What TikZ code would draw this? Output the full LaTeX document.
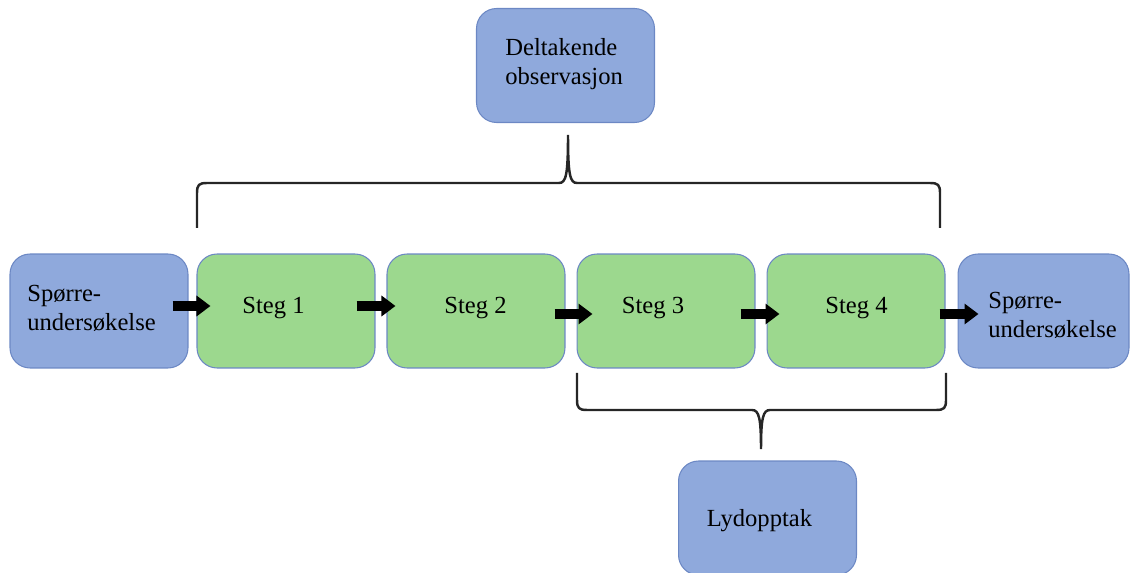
\documentclass[tikz,border=0pt]{standalone}
\usepackage{fontspec}
\setmainfont{Liberation Serif}
\usetikzlibrary{arrows.meta}
\definecolor{boxblue}{RGB}{143,169,220}
\definecolor{boxgreen}{RGB}{156,216,142}
\definecolor{boxline}{RGB}{108,136,196}

\tikzset{
   box/.style={draw=boxline, line width=0.6pt, rounded corners=0.4cm, minimum width=3.56cm, minimum height=2.28cm, inner sep=0pt},
   bluebox/.style={box, fill=boxblue},
   greenbox/.style={box, fill=boxgreen},
   lbl/.style={font=\fontsize{14}{16.5}\selectfont, inner sep=0pt, align=left},
   flow/.style={line width=0.2cm, -{Triangle[length=0.28cm, width=0.4cm]}},
   brace/.style={line width=1.4pt, draw=black!85}
}

\begin{document}
\begin{tikzpicture}[x=0.02cm, y=-0.02cm]
   \useasboundingbox (0,0) rectangle (1131,573);
   % boxes
   \node[bluebox] (svar1) at (99,311) {};
   \node[greenbox] (steg1) at (286,311) {};
   \node[greenbox] (steg2) at (476,311) {};
   \node[greenbox] (steg3) at (666,311) {};
   \node[greenbox] (steg4) at (856,311) {};
   \node[bluebox, minimum width=3.42cm] (svar2) at (1043.5,311) {};
   \node[bluebox] (obs) at (565.5,65.5) {};
   \node[bluebox] (lyd) at (767.5,518) {};
   % arrows
   \draw[flow] ([xshift=-0.32cm, yshift=0.1cm]svar1.east) -- ([xshift=0.28cm, yshift=0.1cm]steg1.west);
   \draw[flow] ([xshift=-0.38cm, yshift=0.1cm]steg1.east) -- ([xshift=0.18cm, yshift=0.1cm]steg2.west);
   \draw[flow] ([xshift=-0.22cm, yshift=-0.06cm]steg2.east) -- ([xshift=0.32cm, yshift=-0.06cm]steg3.west);
   \draw[flow] ([xshift=-0.3cm, yshift=-0.06cm]steg3.east) -- ([xshift=0.26cm, yshift=-0.06cm]steg4.west);
   \draw[flow] ([xshift=-0.12cm, yshift=-0.06cm]steg4.east) -- ([xshift=0.42cm, yshift=-0.06cm]svar2.west);
   % texts
   \node[lbl, anchor=west] (t0) at (27,308.5) {Spørre-\\undersøkelse};
   \node[lbl] (t1) at (273.5,308) {Steg 1};
   \node[lbl] (t2) at (475.5,308) {Steg 2};
   \node[lbl] (t3) at (653,308) {Steg 3};
   \node[lbl] (t4) at (856.5,308) {Steg 4};
   \node[lbl, anchor=west] (t5) at (988,315.5) {Spørre-\\undersøkelse};
   \node[lbl, anchor=west] (tobs) at (505,64) {Deltakende\\observasjon};
   \node[lbl] (tlyd) at (759.5,521) {Lydopptak};
   % braces
   \draw[brace] (197,228) -- (197,193) .. controls (197,185) and (199,183) .. (207,183) -- (559,183)
      .. controls (566,183) and (568,175) .. (568,135) .. controls (568,175) and (570,183) .. (577,183)
      -- (930,183) .. controls (938,183) and (940,185) .. (940,193) -- (940,228);
   \draw[brace] (577,373) -- (577,400) .. controls (577,408) and (579,410) .. (587,410) -- (752,410)
      .. controls (759,410) and (761,418) .. (761,449) .. controls (761,418) and (763,410) .. (770,410)
      -- (936,410) .. controls (944,410) and (946,408) .. (946,400) -- (946,373);
\end{tikzpicture}
\end{document}
